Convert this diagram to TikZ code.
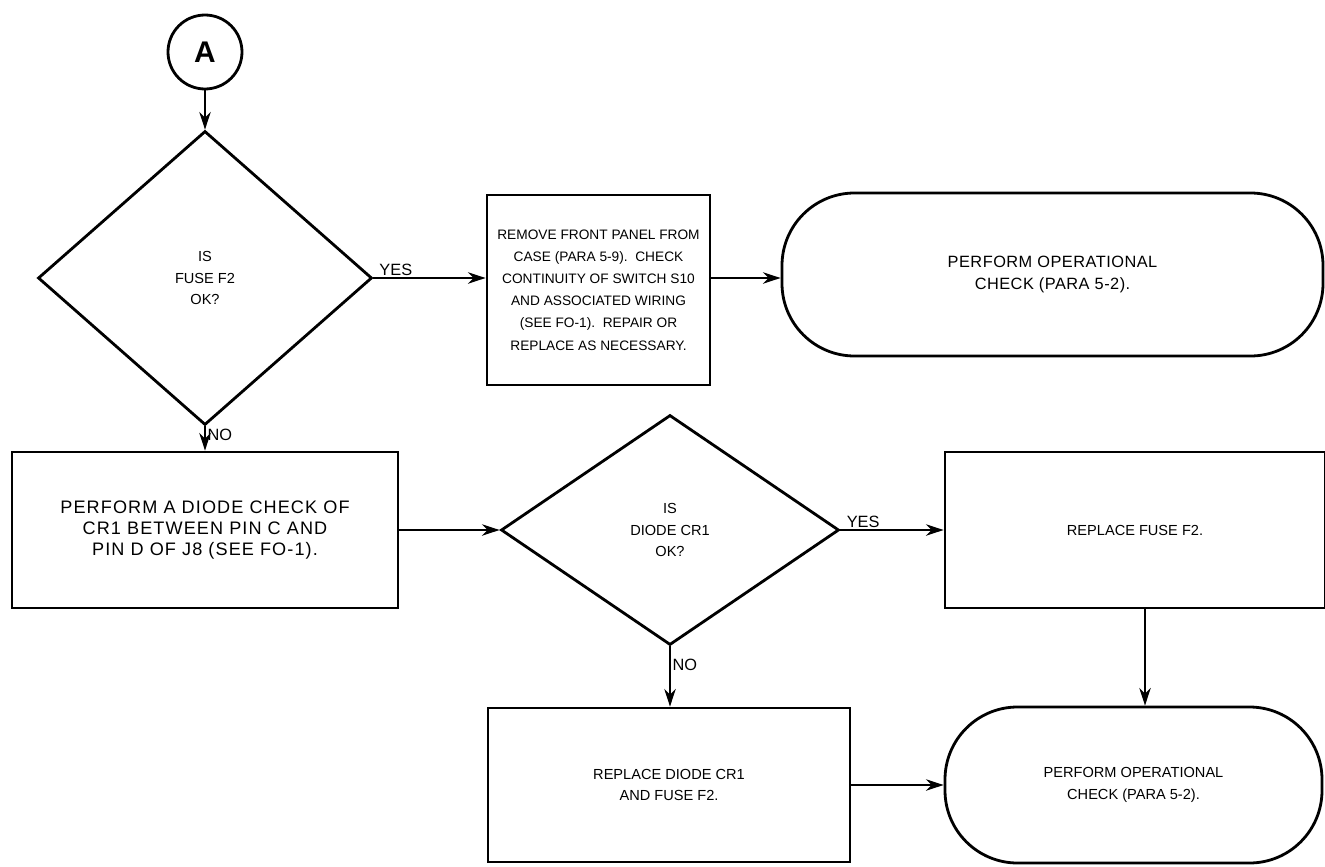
\documentclass[tikz,border=0pt]{standalone}
\usepackage{fontspec}
\setmainfont{Liberation Sans}
\newfontfamily\widefont[LetterSpace=6]{Liberation Sans}
\newfontfamily\semiwidefont[LetterSpace=3]{Liberation Sans}
\usetikzlibrary{shapes.geometric,arrows.meta}
\tikzset{
  box/.style={draw, line width=1.6pt, rectangle, inner sep=0pt, align=center, font=\fontsize{8.3pt}{12.3pt}\selectfont},
  decision/.style={draw, line width=1.6pt, diamond, inner sep=0pt, align=center, font=\fontsize{8.3pt}{12pt}\selectfont},
  terminal/.style={draw, line width=1.6pt, rectangle, rounded corners=1.45cm, inner sep=0pt, align=center, font=\fontsize{8.3pt}{12.8pt}\selectfont},
  conn/.style={line width=0.9pt, -{Stealth[length=10pt,width=6.5pt]}},
  lbl/.style={font=\fontsize{9.3pt}{10pt}\selectfont, inner sep=1pt}
}
\begin{document}
\begin{tikzpicture}
\useasboundingbox[fill=white] (0,0) rectangle (26.5,-17.32);
\node[draw, circle, line width=1.6pt, minimum size=1.48cm, inner sep=0pt, font=\fontsize{17pt}{17pt}\selectfont\bfseries] (A) at (4.10,-1.04) {A};
\node[decision, minimum width=6.68cm, minimum height=5.88cm] (D1) at (4.10,-5.56) {IS\\FUSE F2\\OK?};
\node[box, minimum width=4.46cm, minimum height=3.8cm, font=\fontsize{7.8pt}{12.6pt}\selectfont] (B1) at (11.97,-5.80) {REMOVE FRONT PANEL FROM\\CASE (PARA 5-9).\ \ CHECK\\CONTINUITY OF SWITCH S10\\AND ASSOCIATED WIRING\\(SEE FO-1).\ \ REPAIR OR\\REPLACE AS NECESSARY.};
\node[terminal, minimum width=10.82cm, minimum height=3.26cm, font=\semiwidefont\fontsize{9.3pt}{13pt}\selectfont] (T1) at (21.05,-5.49) {PERFORM OPERATIONAL\\CHECK (PARA 5-2).};
\node[box, minimum width=7.72cm, minimum height=3.12cm, font=\widefont\fontsize{10.3pt}{12pt}\selectfont] (B2) at (4.10,-10.60) {PERFORM A DIODE CHECK OF\\CR1 BETWEEN PIN C AND\\PIN D OF J8 (SEE FO-1).};
\node[decision, minimum width=6.76cm, minimum height=4.6cm] (D2) at (13.40,-10.60) {IS\\DIODE CR1\\OK?};
\node[box, minimum width=7.6cm, minimum height=3.12cm] (B3) at (22.70,-10.60) {REPLACE FUSE F2.};
\node[box, minimum width=7.24cm, minimum height=3.08cm] (B4) at (13.38,-15.70) {REPLACE DIODE CR1\\AND FUSE F2.};
\node[terminal, minimum width=7.54cm, minimum height=3.12cm] (T2) at (22.67,-15.70) {PERFORM OPERATIONAL\\CHECK (PARA 5-2).};
\coordinate (b3s) at (22.90,-12.16);
\draw[conn] (A) -- (D1.north);
\draw[conn] (D1.east) -- (D1.east -| B1.west) node[lbl, pos=0.2, above] {YES};
\draw[conn] (D1.east -| B1.east) -- (D1.east -| T1.west);
\draw[conn] (D1.south) -- (B2.north) node[lbl, pos=0.35, right] {NO};
\draw[conn] (B2.east) -- (D2.west);
\draw[conn] (D2.east) -- (B3.west) node[lbl, pos=0.22, above] {YES};
\draw[conn] (D2.south) -- (D2.south |- B4.north) node[lbl, pos=0.3, right] {NO};
\draw[conn] (b3s) -- (b3s |- T2.north);
\draw[conn] (B4.east) -- (B4.east -| T2.west);
\end{tikzpicture}
\end{document}
